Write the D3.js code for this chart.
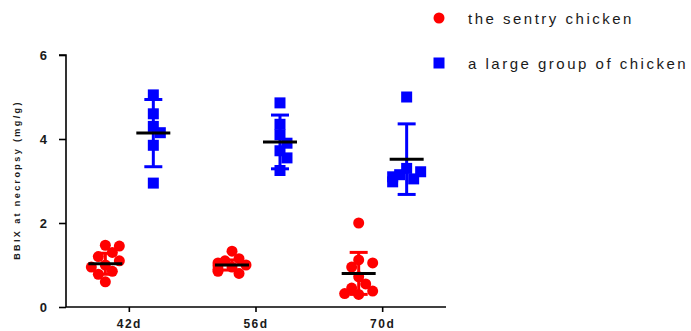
<!DOCTYPE html>
<html>
<head>
<meta charset="utf-8">
<script src="https://cdn.jsdelivr.net/npm/d3@7"></script>
<style>
  body { margin: 0; background: #fff; }
  svg { display: block; font-family: Arial, "Liberation Sans", sans-serif; }
</style>
</head>
<body>
<script>
// data
var groups = ["42d", "56d", "70d"];
var seriesNames = ["the sentry chicken", "a large group of chicken"];
var sentry = [
  [1.47, 1.45, 1.3, 1.2, 1.1, 1.0, 0.95, 0.85, 0.78, 0.6],
  [1.33, 1.15, 1.1, 1.05, 1.0, 0.98, 0.95, 0.9, 0.85, 0.8],
  [2.0, 1.12, 1.05, 0.95, 0.72, 0.55, 0.45, 0.38, 0.32, 0.3]
];
var large = [
  [5.05, 4.6, 4.3, 4.15, 3.85, 2.95],
  [4.86, 4.35, 4.1, 3.9, 3.72, 3.55, 3.25],
  [5.0, 3.3, 3.22, 3.15, 3.1, 3.05, 2.98]
];
var sentryMean = [1.03, 1.0, 0.8];
var sentrySD = [0.25, 0.12, 0.5];
var largeMean = [4.14, 3.93, 3.52];
var largeSD = [0.8, 0.64, 0.84];
var yTicks = [0, 2, 4, 6];

var width = 691, height = 331;
var svg = d3.select("body").append("svg")
  .attr("width", width)
  .attr("height", height);

var x = d3.scaleBand().domain(groups).range([66, 446]);
var sub = d3.scalePoint().domain(seriesNames).range([0, x.bandwidth()]).padding(0.82);
var y = d3.scaleLinear().domain([0, 6]).range([307, 55]);
var colors = ["#ff0000", "#0000ff"];
var msize = 11;

// axes
var yAxis = svg.append("g")
  .attr("transform", "translate(66,0)")
  .call(d3.axisLeft(y).tickValues(yTicks).tickFormat(d3.format("d")).tickSize(7).tickPadding(12));
var xAxis = svg.append("g")
  .attr("transform", "translate(0,307)")
  .call(d3.axisBottom(x).tickSize(5).tickPadding(7));
[yAxis, xAxis].forEach(function(ax) {
  ax.select(".domain").attr("stroke", "#000").attr("stroke-width", 1.6);
  ax.selectAll(".tick line").attr("stroke", "#000").attr("stroke-width", 1.6);
  ax.selectAll("text").attr("fill", "#1a1a1a").attr("font-weight", "bold")
    .attr("font-family", "Arial, 'Liberation Sans', sans-serif");
});
yAxis.select(".domain").attr("d", "M-7," + y(6) + "H0V" + y(0));
xAxis.select(".domain").attr("d", "M66,0H446");
yAxis.selectAll("text").attr("font-size", 13);
xAxis.selectAll("text").attr("font-size", 12).attr("letter-spacing", "1.5px");

svg.append("text")
  .attr("transform", "translate(20,180) rotate(-90)")
  .attr("text-anchor", "middle")
  .attr("font-size", 9)
  .attr("font-weight", "bold")
  .attr("letter-spacing", "2.4px")
  .attr("fill", "#1a1a1a")
  .text("BBIX at necropsy (mg/g)");

// simple beeswarm so overlapping points spread sideways
function swarm(values, cx) {
  var placed = [];
  var sorted = values.slice().sort(function(a, b) { return b - a; });
  sorted.forEach(function(v) {
    var py = y(v);
    var steps = [0, 7, -7, 14, -14];
    for (var k = 0; k < steps.length; k++) {
      var px = cx + steps[k];
      var hit = placed.some(function(p) {
        return Math.hypot(p.x - px, p.y - py) < 9;
      });
      if (!hit || k == steps.length - 1) { placed.push({x: px, y: py}); break; }
    }
  });
  return placed;
}

var allData = [sentry, large];
var means = [sentryMean, largeMean];
var sds = [sentrySD, largeSD];

seriesNames.forEach(function(s, si) {
  groups.forEach(function(g, gi) {
    var cx = x(g) + sub(s);
    var pts = swarm(allData[si][gi], cx);
    var gg = svg.append("g");
    if (si == 0) {
      gg.selectAll("circle").data(pts).enter().append("circle")
        .attr("cx", d => d.x).attr("cy", d => d.y).attr("r", msize / 2)
        .attr("fill", colors[si]);
    } else {
      gg.selectAll("rect").data(pts).enter().append("rect")
        .attr("x", d => d.x - msize / 2).attr("y", d => d.y - msize / 2)
        .attr("width", msize).attr("height", msize)
        .attr("fill", colors[si]);
    }
    var m = means[si][gi], sd = sds[si][gi];
    // error bar
    gg.append("line")
      .attr("x1", cx).attr("x2", cx).attr("y1", y(m + sd)).attr("y2", y(m - sd))
      .attr("stroke", colors[si]).attr("stroke-width", 3);
    [m + sd, m - sd].forEach(function(v) {
      gg.append("line")
        .attr("x1", cx - 9).attr("x2", cx + 9).attr("y1", y(v)).attr("y2", y(v))
        .attr("stroke", colors[si]).attr("stroke-width", 3);
    });
    // mean
    gg.append("line")
      .attr("x1", cx - 17).attr("x2", cx + 17).attr("y1", y(m)).attr("y2", y(m))
      .attr("stroke", "#000").attr("stroke-width", 3);
  });
});

// legend
var legend = svg.append("g");
seriesNames.forEach(function(s, i) {
  var ly = 18 + i * 45;
  if (i == 0) {
    legend.append("circle").attr("cx", 439).attr("cy", ly).attr("r", msize / 2).attr("fill", colors[i]);
  } else {
    legend.append("rect").attr("x", 439 - msize / 2).attr("y", ly - msize / 2)
      .attr("width", msize).attr("height", msize).attr("fill", colors[i]);
  }
  legend.append("text")
    .attr("x", 468).attr("y", ly + 6)
    .attr("font-size", 15)
    .attr("letter-spacing", "2.5px")
    .attr("fill", "#1a1a1a")
    .text(s);
});
</script>
</body>
</html>
